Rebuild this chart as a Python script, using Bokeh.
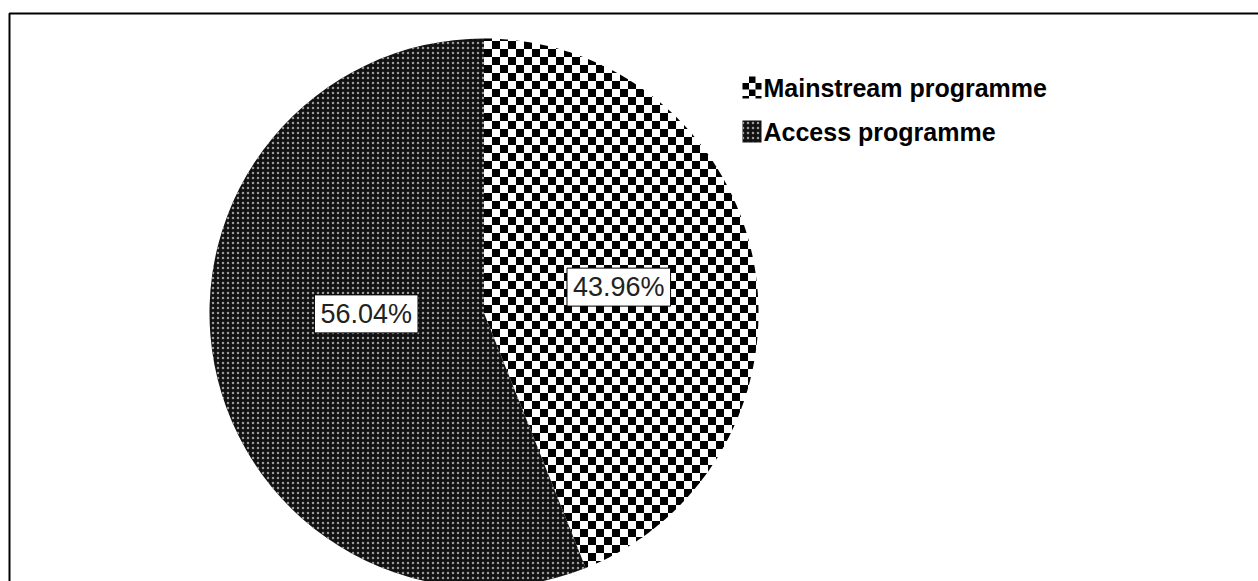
import numpy as np
from bokeh.plotting import figure
from bokeh.models import ColumnDataSource, Range1d, Label, BoxAnnotation
from bokeh.core.properties import value
from bokeh.embed import file_html
from bokeh.resources import INLINE

# ---- data ----
categories = ["Mainstream programme", "Access programme"]
shares = [43.96, 56.04]
pct_labels = ["43.96%", "56.04%"]

# ---- styles ----
DARK_FILL, DOT_COLOR = "#111111", "#9a9a9a"
label_offsets = [(0, 0), (17, 25)]

W, H = 1258, 581
cx, cy, R = 483.5, H - 312.5, 274.5
CELL = 8

p = figure(width=W, height=H, output_backend="svg", toolbar_location=None,
           x_range=Range1d(0, W), y_range=Range1d(0, H), min_border=0,
           outline_line_color=None)
p.axis.visible = False
p.grid.visible = False
p.background_fill_color = "white"
p.border_fill_color = "white"

frac = np.array(shares) / np.sum(shares)
cum = np.concatenate([[0], np.cumsum(frac)])
starts = np.pi / 2 - 2 * np.pi * cum[:-1]
ends = np.pi / 2 - 2 * np.pi * cum[1:]
mids = (starts + ends) / 2


def clip_convex(poly, clipper):
    """Sutherland-Hodgman clip of poly against a convex, CCW clipper."""
    out = poly
    n = len(clipper)
    for k in range(n):
        ax, ay = clipper[k]
        bx, by = clipper[(k + 1) % n]
        inp, out = out, []
        if not inp:
            break
        def side(pt):
            return (bx - ax) * (pt[1] - ay) - (by - ay) * (pt[0] - ax)
        s = inp[-1]
        for e in inp:
            se, ss = side(e), side(s)
            if se >= 0:
                if ss < 0:
                    t = ss / (ss - se)
                    out.append((s[0] + t * (e[0] - s[0]), s[1] + t * (e[1] - s[1])))
                out.append(e)
            elif ss >= 0:
                t = ss / (ss - se)
                out.append((s[0] + t * (e[0] - s[0]), s[1] + t * (e[1] - s[1])))
            s = e
    return out


def checker_cells(clipper, x0, y0, x1, y1, cell, ox, oy):
    xs, ys = [], []
    i0, i1 = int(np.floor((x0 - ox) / cell)), int(np.ceil((x1 - ox) / cell))
    j0, j1 = int(np.floor((y0 - oy) / cell)), int(np.ceil((y1 - oy) / cell))
    for i in range(i0, i1):
        for j in range(j0, j1):
            if (i + j) % 2:
                continue
            sx, sy = ox + i * cell, oy + j * cell
            sq = [(sx, sy), (sx + cell, sy), (sx + cell, sy + cell), (sx, sy + cell)]
            c = clip_convex(sq, clipper)
            if len(c) >= 3:
                xs.append([q[0] for q in c])
                ys.append([q[1] for q in c])
    return xs, ys


# --- Mainstream slice: white wedge + black checker texture clipped to it
p.wedge(x=[cx], y=[cy], radius=R, start_angle=[starts[0]], end_angle=[ends[0]],
        direction="clock", fill_color="white", line_color=None)
arc = np.linspace(ends[0], starts[0], 200)   # CCW order
wedge_poly = [(cx, cy)] + [(cx + R * np.cos(a), cy + R * np.sin(a)) for a in arc]
cxs, cys = checker_cells(wedge_poly, cx - 2, cy - R - 2, cx + R + 2, cy + R + 2,
                         CELL, cx, cy)
p.patches(xs=cxs, ys=cys, fill_color="black", line_color=None)

# --- Access slice: dark wedge with dot texture
p.wedge(x=[cx], y=[cy], radius=R, start_angle=[starts[1]], end_angle=[ends[1]],
        direction="clock", fill_color=DARK_FILL, line_color=None,
        hatch_pattern="dot", hatch_color=DOT_COLOR, hatch_scale=5, hatch_weight=2)

# --- percentage labels
for i, t in enumerate(pct_labels):
    p.add_layout(Label(x=cx + 0.5 * R * np.cos(mids[i]),
                       y=cy + 0.5 * R * np.sin(mids[i]), text=t,
                       x_offset=label_offsets[i][0], y_offset=label_offsets[i][1],
                       text_align="center", text_baseline="middle",
                       text_font="Liberation Sans", text_font_size="27px",
                       text_color="#222222",
                       background_fill_color="white",
                       border_line_color="black", border_line_width=1,
                       padding=(6, 4)))

# --- legend (drawn by hand so the checker swatch can be shown)
sw_x0, sw_w, sw_h = 742, 19, 22
row_y = [H - 87, H - 131]
sw_cell = 6.5
# Mainstream swatch
y_mid = row_y[0]
sw_poly = [(sw_x0, y_mid - sw_h / 2), (sw_x0 + sw_w, y_mid - sw_h / 2),
           (sw_x0 + sw_w, y_mid + sw_h / 2), (sw_x0, y_mid + sw_h / 2)]
lxs, lys = checker_cells(sw_poly, sw_x0, y_mid - sw_h / 2, sw_x0 + sw_w,
                         y_mid + sw_h / 2, sw_cell, sw_x0, y_mid + sw_h / 2)
p.patches(xs=lxs, ys=lys, fill_color="black", line_color=None)
# Access swatch
p.rect(x=[sw_x0 + sw_w / 2], y=[row_y[1]], width=sw_w, height=sw_h,
       fill_color=DARK_FILL, line_color=None, hatch_pattern="dot",
       hatch_color=DOT_COLOR, hatch_scale=5, hatch_weight=2)
p.text(x=[sw_x0 + sw_w + 2] * 2, y=row_y, text=categories,
       text_font=value("Liberation Sans"), text_font_style="bold",
       text_font_size="25px", text_color="black",
       text_align="left", text_baseline="middle")

# --- outer frame
p.add_layout(BoxAnnotation(left=9, right=W + 20, top=H - 13, bottom=-20,
                           fill_alpha=0, line_color="black", line_alpha=1,
                           line_width=2))

open("out.html", "w").write(file_html(p, INLINE))
